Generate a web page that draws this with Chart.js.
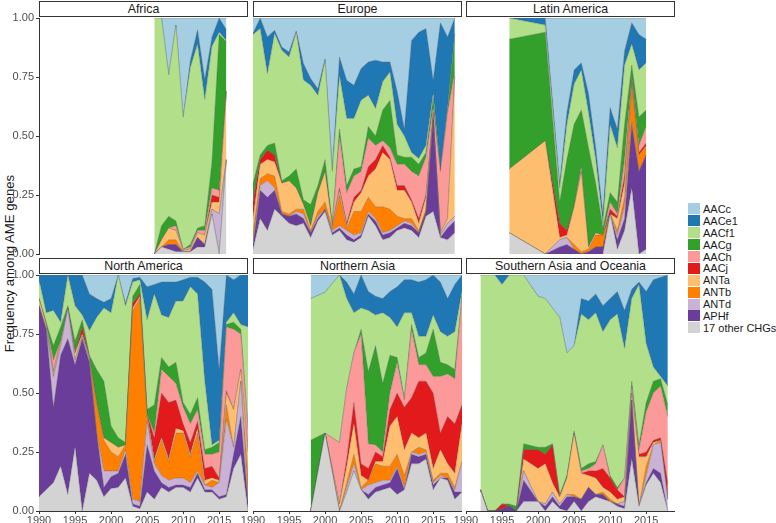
<!DOCTYPE html>
<html>
<head>
<meta charset="utf-8">
<script src="https://cdn.jsdelivr.net/npm/chart.js@4.4.0/dist/chart.umd.min.js"></script>
<style>
  body { margin: 0; width: 776px; height: 523px; position: relative; overflow: hidden; background: #fff;
         font-family: "Liberation Sans", Arial, sans-serif; }
  .strip { position: absolute; box-sizing: border-box; height: 16px; border: 1px solid #333; background: #fff;
           font-size: 12.4px; line-height: 14px; text-align: center; color: #1a1a1a; }
  canvas { position: absolute; }
  #ytitle { position: absolute; left: -141px; top: 256px; width: 300px; text-align: center; font-size: 13.2px;
            color: #1a1a1a; transform: rotate(-90deg); }
  #legend { position: absolute; left: 688px; top: 203px; }
  .key { height: 11.9px; display: flex; align-items: center; font-size: 11px; color: #1a1a1a; white-space: nowrap; }
  .key span { display: inline-block; width: 12px; height: 11px; margin-right: 3px; }
</style>
</head>
<body>
<div id="ytitle">Frequency among AME genes</div>
<div id="legend"></div>
<script>
// stacking order, bottom to top
const genes = ['other', 'APHf', 'ANTd', 'ANTb', 'ANTa', 'AACj', 'AACh', 'AACg', 'AACf1', 'AACe1', 'AACc'];
const geneLabels = { other: '17 other CHGs' };
const colors = {
  AACc: '#a6cee3', AACe1: '#1f78b4', AACf1: '#b2df8a', AACg: '#33a02c', AACh: '#fb9a99', AACj: '#e31a1c',
  ANTa: '#fdbf6f', ANTb: '#ff7f00', ANTd: '#cab2d6', APHf: '#6a3d9a', other: '#d3d3d3'
};
const xTicks = [1990, 1995, 2000, 2005, 2010, 2015];
const yTicks = [0, 0.25, 0.5, 0.75, 1];

// ---- Africa ----
const africaYears = [2006, 2007, 2008, 2009, 2010, 2011, 2012, 2013, 2014, 2015, 2016];
const africa = {
  other: [0, .03, .02, .01, .01, .01, .03, .03, .17, 0, .40],
  APHf:  [0, 0, .02, .03, 0, 0, .04, .01, 0, 0, 0],
  ANTd:  [0, 0, 0, 0, 0, 0, 0, 0, .02, .17, 0],
  ANTb:  [0, 0, .02, .02, 0, 0, 0, 0, 0, 0, 0],
  ANTa:  [0, .03, .05, .04, .005, .01, .02, .04, .03, .05, .29],
  AACj:  [0, 0, 0, 0, 0, 0, 0, 0, .03, .02, 0],
  AACh:  [0, 0, 0, .02, .005, .01, .01, .02, .03, .03, 0],
  AACg:  [0, .06, .05, .02, 0, .01, .01, .02, .11, .66, .21],
  AACf1: [1, .88, .60, .83, .56, .75, .78, .535, .49, .01, .005],
  AACe1: [0, 0, 0, 0, 0, .03, .06, .085, .04, .06, .045],
  AACc:  [0, 0, .24, .03, .42, .18, .05, .26, .08, 0, .05]
};

// ---- Europe ----
const europeYears = [1990, 1991, 1992, 1993, 1994, 1995, 1996, 1997, 1998, 1999, 2000, 2001, 2002, 2003, 2004,
  2005, 2006, 2007, 2008, 2009, 2010, 2011, 2012, 2013, 2014, 2015, 2016, 2017, 2018];
const europe = {
  other: [.02, .15, .10, .19, .16, .13, .12, .13, .07, .14, .18, .08, .10, .06, .05, .07, .16, .12, .06, .07, .10, .11, .10, .07, .16, .18, .07, .06, .09],
  APHf:  [.02, .12, .14, .08, .01, .03, .05, .02, .02, .01, .01, .01, .01, .02, .01, .01, .01, .02, .02, .02, .01, .02, .02, .02, .02, .39, 0, .05, .05],
  ANTd:  [.01, .02, .07, .01, 0, 0, .01, .02, 0, .01, 0, .01, .01, .02, .02, .01, .01, .01, .01, .01, .01, .01, .01, 0, 0, 0, .01, .02, .02],
  ANTb:  [.04, .03, .03, .05, .01, .01, .01, .02, .01, .02, .03, .01, .13, .01, .10, .09, .06, .05, .11, .09, .04, .01, .02, .01, .01, 0, 0, 0, 0],
  ANTa:  [.06, .06, .06, .06, .12, .14, .09, .02, .02, .08, .13, .01, .02, .01, .04, .08, .09, .16, .23, .21, .11, .12, .07, .03, .05, .01, .01, .02, .59],
  AACj:  [.07, .02, .04, .03, 0, 0, 0, 0, 0, 0, 0, 0, .01, .01, .02, .01, .04, .04, .03, .01, .02, .02, .01, .02, .01, .02, 0, 0, .01],
  AACh:  [0, 0, 0, 0, 0, 0, 0, 0, 0, 0, 0, 0, .22, .13, .09, .08, .12, .06, .02, .04, .09, .09, .12, .18, .16, .02, .26, .45, .01],
  AACg:  [.08, .02, .02, .05, .01, .02, .08, .02, .09, .03, .05, .01, .03, .03, .03, .02, .05, .04, .13, .20, .04, .03, .06, .05, .02, .04, .005, .01, .16],
  AACf1: [.63, .535, .305, .464, .553, .505, .58, .507, .505, .383, .42, .22, .227, .284, .214, .282, .133, .117, .12, .121, .13, .09, .02, .025, .03, .02, 0, .01, .005],
  AACe1: [.005, .045, .155, .014, .014, .021, .005, .07, .029, .027, .007, .01, .078, .162, .141, .134, .141, .204, .084, .043, .14, .03, .475, .535, .495, .056, .625, .30, .065],
  AACc:  [.065, 0, .08, .052, .123, .144, .055, .193, .256, .30, .173, .64, .165, .264, .285, .214, .186, .179, .186, .186, .31, .47, .095, .06, .045, .264, .02, .08, 0]
};

// ---- Latin America ----
const latinYears = [1996, 2001, 2003, 2004, 2005, 2006, 2007, 2008, 2009, 2010, 2011, 2012, 2013, 2014, 2015];
const latin = {
  other: [.09, 0, 0, 0, 0, 0, 0, 0, 0, .17, .02, .10, .28, 0, .02],
  APHf:  [0, 0, .03, .04, .02, 0, .01, .03, .03, 0, .04, .05, .27, .35, .40],
  ANTd:  [0, 0, .03, .03, 0, 0, 0, 0, 0, 0, .02, .05, .01, 0, 0],
  ANTb:  [0, 0, 0, 0, .02, .01, .01, .05, .05, 0, .02, .04, .16, .07, .04],
  ANTa:  [.27, .48, .01, .01, .16, .34, .01, .01, 0, 0, .05, .06, .01, 0, 0],
  AACj:  [0, 0, .06, .02, 0, 0, 0, 0, 0, .02, .01, .03, .01, .01, .01],
  AACh:  [0, 0, 0, 0, 0, .02, 0, 0, 0, .03, .01, .07, .01, .03, .07],
  AACg:  [.55, .46, .09, .30, .35, .24, .42, .21, .03, .04, .05, .15, .05, .12, .07],
  AACf1: [.09, .03, .06, .15, .17, .17, .15, .10, .02, .29, .23, .25, .09, .20, .20],
  AACe1: [0, .03, .02, .05, .06, .03, .08, .05, .04, .07, .08, .06, .09, .15, .10],
  AACc:  [0, 0, .70, .40, .22, .19, .32, .55, .83, .38, .47, .14, .02, .07, .09]
};

// ---- North America ----
const northAmYears = [1990, 1991, 1992, 1993, 1994, 1995, 1996, 1997, 1998, 1999, 2000, 2001, 2002, 2003, 2004,
  2005, 2006, 2007, 2008, 2009, 2010, 2011, 2012, 2013, 2014, 2015, 2016, 2017, 2018, 2019];
const northAm = {
  other: [.06, .09, .12, .19, .07, .27, 0, .16, .13, .06, .095, .10, .14, .02, .01, .08, .05, .10, .08, .10, .10, .08, .14, .08, .08, .05, .06, .18, .24, 0],
  APHf:  [.81, .68, .32, .47, .66, .35, .73, .47, .20, .04, .05, .06, .10, .01, .01, .20, .12, .02, .02, .01, .01, .02, .02, .01, .01, .01, .01, .06, .16, .04],
  ANTd:  [0, 0, .13, .04, .13, .02, .01, .01, 0, .07, .025, .01, .02, .02, .02, .10, .03, .03, .03, .03, .03, .02, .01, .02, .01, .06, .32, .03, .15, .01],
  ANTb:  [0, 0, 0, 0, 0, 0, 0, 0, .12, .13, .08, .06, .02, .80, .86, .02, .01, .15, .08, .19, .19, .11, .16, 0, .03, 0, .06, 0, 0, .10],
  ANTa:  [.03, .02, .02, .02, 0, .03, .01, .01, .01, .01, .04, .04, 0, .01, .01, .01, .01, .01, .01, .02, .01, .01, .02, .02, .01, .01, .05, .16, .05, .10],
  AACj:  [0, 0, 0, 0, 0, 0, .03, 0, 0, 0, 0, 0, 0, .02, .01, 0, .09, .19, .24, .12, .03, .05, .03, .05, .05, .01, .01, 0, 0, 0],
  AACh:  [0, 0, .05, 0, 0, 0, 0, 0, 0, 0, 0, 0, 0, 0, 0, 0, .02, .10, .11, .07, .07, .08, .05, .06, .05, .11, .27, .34, .15, .10],
  AACg:  [0, .01, .06, .06, .01, .05, .03, .01, .14, .24, .07, .04, .01, .03, .04, .02, .12, .05, .04, .09, .02, .04, .05, .02, .03, .04, .01, .03, .02, 0],
  AACf1: [.08, .04, .15, .02, .13, .15, .02, .105, .22, .31, .48, .69, .58, .06, .02, .38, .47, .18, .21, .26, .43, .54, .44, .29, .01, .01, .01, .04, .02, .43],
  AACe1: [.02, .16, .15, .20, 0, .13, .17, .155, .08, .025, .06, 0, .01, .015, .01, .14, .04, .14, .15, .08, .09, .04, .07, .42, .66, .30, .20, .14, .21, .22],
  AACc:  [0, 0, 0, 0, 0, 0, 0, .08, .10, .115, .10, 0, .12, .015, .01, .05, .04, .03, .03, .03, .02, .01, .01, .03, .06, .40, 0, .02, 0, 0]
};

// ---- Northern Asia ----
const northAsYears = [1998, 2000, 2002, 2003, 2004, 2005, 2006, 2007, 2008, 2009, 2010, 2011, 2012, 2013, 2014,
  2015, 2016, 2017, 2018, 2019];
const northAs = {
  other: [0, .33, 0, .08, .17, .09, .05, .08, .09, .10, .07, .09, .20, .20, .22, .09, .14, .13, .05, .08],
  APHf:  [0, 0, 0, 0, 0, 0, .02, .02, .02, .02, .11, 0, .04, .03, .02, .02, 0, .01, .03, 0],
  ANTd:  [0, 0, 0, .02, .03, 0, .04, .02, .02, .01, .01, .01, .01, .01, .01, .01, .01, 0, .01, .13],
  ANTb:  [0, 0, 0, .02, .04, .01, .02, .08, .06, .06, .05, .05, 0, .03, .01, .01, .01, .02, .01, 0],
  ANTa:  [0, 0, .03, .07, .13, .05, 0, .01, .02, .17, .16, .11, .08, .04, .07, .05, .10, .04, .06, .16],
  AACj:  [0, 0, 0, .03, .09, .05, .05, .04, .02, .07, .10, .18, .15, .24, .22, .32, .07, .20, .21, .08],
  AACh:  [0, 0, .26, .30, .21, .55, .105, .03, .02, .07, .13, .03, .29, .07, .07, .07, .24, .18, .19, .46],
  AACg:  [.30, 0, 0, 0, 0, .02, .305, .42, .29, .16, .02, .01, .02, .03, .05, .20, .06, .04, .04, 0],
  AACf1: [.60, .597, .71, .38, .17, .09, .26, .13, .30, .16, .13, .36, .05, .09, .07, .06, .13, .12, .16, .02],
  AACe1: [0, 0, 0, .07, .08, .14, .08, .08, .06, .11, .17, .14, .14, .23, .24, .17, .21, .16, .20, .07],
  AACc:  [.10, .073, 0, .03, .08, 0, .07, .09, .10, .07, .05, .02, .02, .03, .02, 0, .03, .10, .04, 0]
};

// ---- Southern Asia and Oceania ----
const southAsYears = [1992, 1993, 1994, 1995, 1996, 1997, 1998, 2000, 2001, 2002, 2003, 2004, 2005, 2006, 2007,
  2008, 2009, 2010, 2011, 2012, 2013, 2014, 2015, 2016, 2017, 2018];
const southAs = {
  other: [.09, 0, 0, 0, 0, 0, .04, .04, 0, .04, .01, 0, .04, 0, .04, .06, .05, .04, .02, .01, .22, .02, .11, .16, .12, 0],
  APHf:  [0, 0, 0, .01, .02, 0, .09, 0, .02, .02, .01, .06, .02, .05, .06, .01, .02, 0, .01, .01, .25, 0, .01, .02, .04, 0],
  ANTd:  [0, 0, 0, 0, 0, 0, .04, 0, .01, .02, .01, .01, 0, 0, 0, 0, 0, 0, 0, .02, 0, 0, .03, .10, .13, .05],
  ANTb:  [0, 0, 0, 0, 0, 0, 0, 0, 0, 0, 0, 0, .01, 0, 0, 0, .01, .01, 0, 0, 0, 0, .04, 0, .01, 0],
  ANTa:  [0, 0, 0, 0, 0, 0, .05, .14, .17, .04, .03, .07, .26, .11, .05, .07, .02, .03, .02, .02, .03, .21, .04, .01, 0, 0],
  AACj:  [0, 0, 0, .02, 0, 0, .04, .08, .04, .16, 0, 0, 0, 0, .02, .03, .08, .06, .04, 0, 0, .01, .02, .01, .01, .07],
  AACh:  [0, 0, 0, 0, 0, 0, 0, 0, 0, 0, 0, 0, 0, .01, .01, .03, .10, 0, 0, .08, .03, .02, .17, .20, .22, .28],
  AACg:  [0, 0, 0, 0, .01, .02, .025, .01, .03, .005, .01, .01, .01, .01, .02, .01, 0, .01, .01, 0, .02, .02, .04, .05, .03, .05],
  AACf1: [.91, 1, 1, .93, .97, .98, .715, .64, .63, .575, .75, .52, .36, .655, .61, .63, .48, .66, .735, .55, .35, .68, .25, .06, .01, .08],
  AACe1: [0, 0, 0, .04, 0, 0, 0, 0, 0, 0, 0, 0, 0, .065, .08, .08, .11, .09, .095, .16, .04, .01, .22, .37, .42, .47],
  AACc:  [0, 0, 0, 0, 0, 0, 0, .09, .10, .14, .18, .33, .30, .10, .11, .08, .13, .10, .07, .15, .06, .03, .07, .02, .01, 0]
};

const panels = [
  { name: 'Africa', years: africaYears, values: africa, col: 0, row: 0 },
  { name: 'Europe', years: europeYears, values: europe, col: 1, row: 0 },
  { name: 'Latin America', years: latinYears, values: latin, col: 2, row: 0 },
  { name: 'North America', years: northAmYears, values: northAm, col: 0, row: 1 },
  { name: 'Northern Asia', years: northAsYears, values: northAs, col: 1, row: 1 },
  { name: 'Southern Asia and Oceania', years: southAsYears, values: southAs, col: 2, row: 1 }
];

// layout of the facet grid (pixels)
const plotLeft = [39, 253, 466];
const plotTop = [18, 275];
const plotW = 209, plotH = 236;
const tickFont = { family: '"Liberation Sans", Arial, sans-serif', size: 11 };

panels.forEach(p => {
  const strip = document.createElement('div');
  strip.className = 'strip';
  strip.textContent = p.name;
  strip.style.left = plotLeft[p.col] + 'px';
  strip.style.top = (plotTop[p.row] - 17) + 'px';
  strip.style.width = plotW + 'px';
  document.body.appendChild(strip);

  const showX = p.row === 1, showY = p.col === 0;
  const canvas = document.createElement('canvas');
  canvas.width = (showY ? 39 : 14) + plotW;
  canvas.height = 10 + plotH + (showX ? 13 : 10);
  document.body.appendChild(canvas);

  const datasets = genes.map((g, i) => ({
    label: geneLabels[g] || g,
    data: p.years.map((yr, j) => ({ x: yr, y: p.values[g][j] })),
    backgroundColor: colors[g],
    borderColor: 'rgba(85,85,85,0.55)',
    borderWidth: 0.6,
    fill: i === 0 ? 'origin' : '-1',
    pointRadius: 0,
    tension: 0
  }));

  const chart = new Chart(canvas, {
    type: 'line',
    data: { datasets },
    options: {
      responsive: false,
      maintainAspectRatio: false,
      animation: false,
      layout: { padding: { left: showY ? 0 : 14, right: 0, top: 10, bottom: showX ? 0 : 10 } },
      plugins: { legend: { display: false }, tooltip: { enabled: false } },
      scales: {
        x: {
          type: 'linear', min: 1990, max: 2019,
          display: showX,
          afterFit: s => { s.height = showX ? 13 : 0; },
          afterBuildTicks: s => { s.ticks = xTicks.map(v => ({ value: v })); },
          grid: { drawOnChartArea: false, tickLength: 3, color: '#333' },
          border: { color: '#333', width: 1 },
          ticks: { color: '#4d4d4d', font: tickFont, padding: 0, maxRotation: 0, autoSkip: false,
                   callback: v => String(v) }
        },
        y: {
          stacked: true, min: 0, max: 1,
          display: showY,
          afterFit: s => { s.width = showY ? 39 : 0; },
          afterBuildTicks: s => { s.ticks = yTicks.map(v => ({ value: v })); },
          grid: { drawOnChartArea: false, tickLength: 3, color: '#333' },
          border: { color: '#333', width: 1 },
          ticks: { color: '#4d4d4d', font: tickFont, padding: 2, callback: v => v.toFixed(2) }
        }
      }
    }
  });

  // make the plot area exactly plotW x plotH, then place it on the grid
  for (let k = 0; k < 3; k++) {
    const a = chart.chartArea;
    const dw = plotW - (a.right - a.left), dh = plotH - (a.bottom - a.top);
    if (Math.abs(dw) < 0.5 && Math.abs(dh) < 0.5) break;
    chart.resize(chart.width + dw, chart.height + dh);
  }
  const a = chart.chartArea;
  canvas.style.left = (plotLeft[p.col] - a.left) + 'px';
  canvas.style.top = (plotTop[p.row] - a.top) + 'px';
});

// legend, top to bottom
const legend = document.getElementById('legend');
genes.slice().reverse().forEach(g => {
  const row = document.createElement('div');
  row.className = 'key';
  const sw = document.createElement('span');
  sw.style.background = colors[g];
  row.appendChild(sw);
  row.appendChild(document.createTextNode(geneLabels[g] || g));
  legend.appendChild(row);
});
</script>
</body>
</html>
